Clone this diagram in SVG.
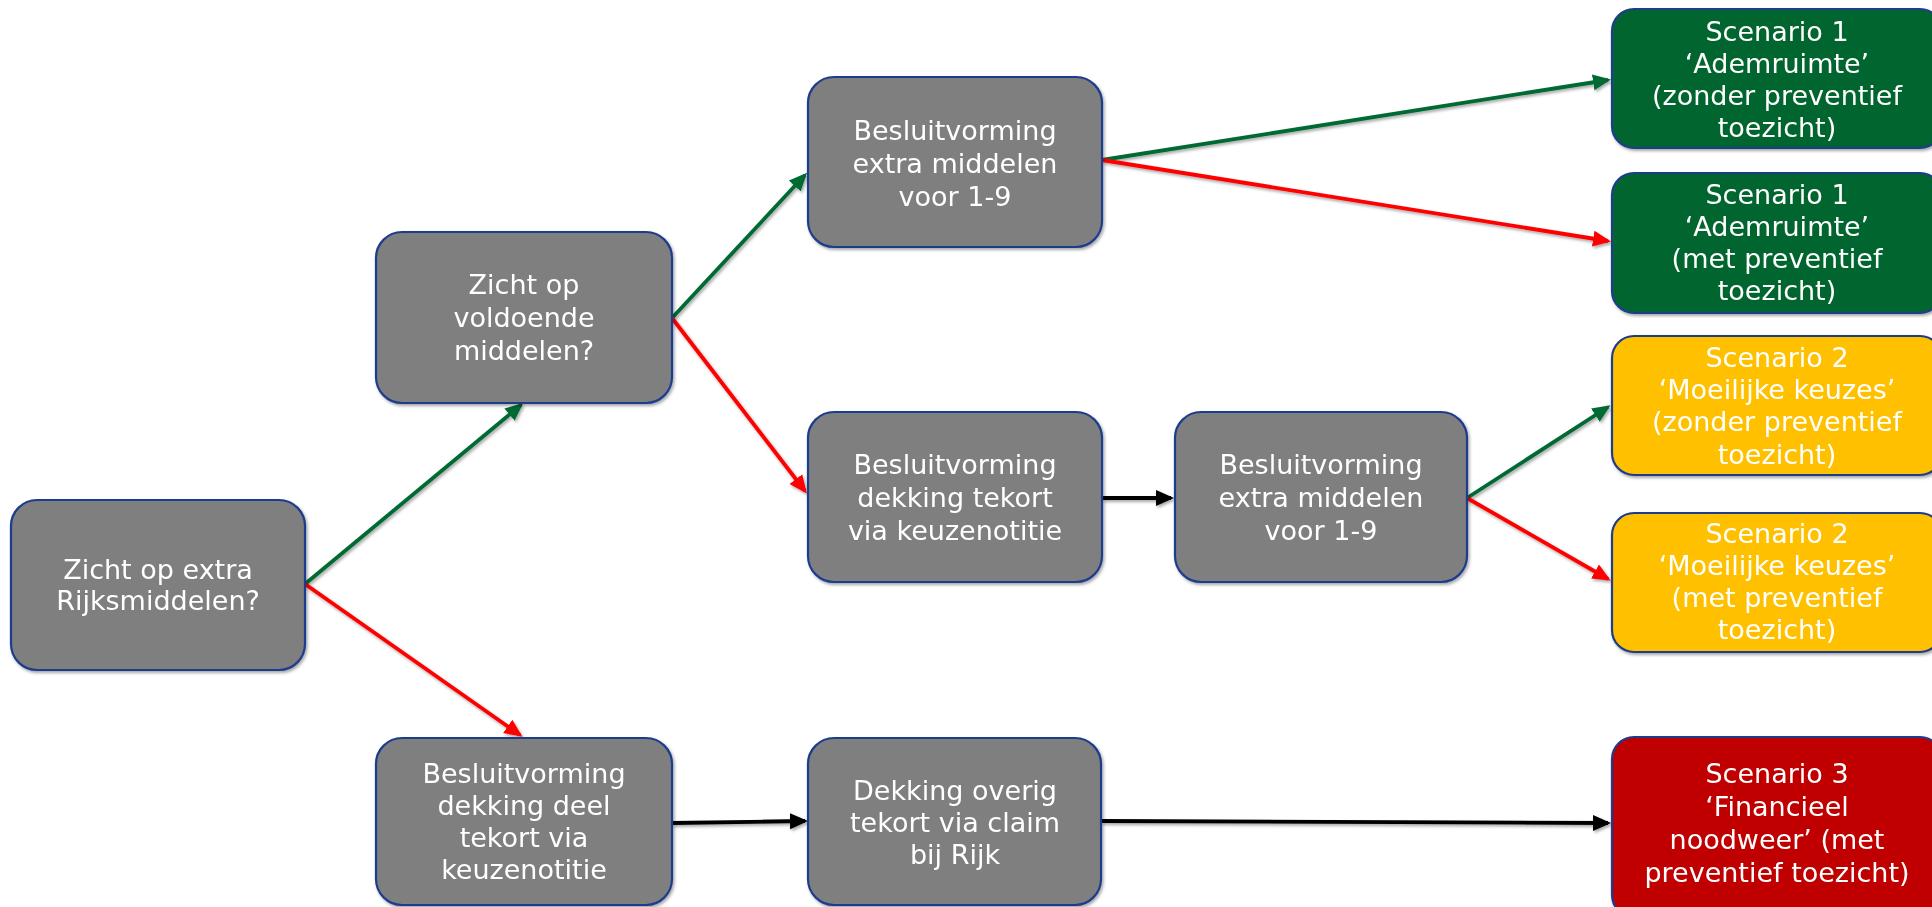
<svg xmlns="http://www.w3.org/2000/svg" width="1932" height="907" viewBox="0 0 1932 907">
<style>
.box{stroke:#1F3C8C;stroke-width:2.2}
.grey{fill:#7F7F7F}
.green{fill:#05652F}
.yellow{fill:#FFC000}
.red{fill:#C00000}
text{font-family:"DejaVu Sans","Verdana",sans-serif;font-size:27px;fill:#FFFFFF;text-anchor:middle}
.c{fill:none;stroke-width:3.8}
.cg{stroke:#046A33}
.cr{stroke:#FF0000}
.ck{stroke:#000000}
</style>
<defs>
<filter id="sh" x="-10%" y="-10%" width="130%" height="130%">
<feDropShadow dx="1.5" dy="2" stdDeviation="1.6" flood-color="#000" flood-opacity="0.35"/>
</filter>
<marker id="ag" markerUnits="userSpaceOnUse" markerWidth="19" markerHeight="18" refX="15" refY="9" orient="auto"><path d="M0,1 L18,9 L0,17 z" fill="#046A33"/></marker>
<marker id="ar" markerUnits="userSpaceOnUse" markerWidth="19" markerHeight="18" refX="15" refY="9" orient="auto"><path d="M0,1 L18,9 L0,17 z" fill="#FF0000"/></marker>
<marker id="ak" markerUnits="userSpaceOnUse" markerWidth="19" markerHeight="18" refX="15" refY="9" orient="auto"><path d="M0,1 L18,9 L0,17 z" fill="#000000"/></marker>
</defs>
<rect width="1932" height="907" fill="#FFFFFF"/>
<g id="connectors" filter="url(#sh)">
<line class="c cg" x1="305" y1="584" x2="521" y2="405" marker-end="url(#ag)"/>
<line class="c cr" x1="305" y1="584" x2="520" y2="735" marker-end="url(#ar)"/>
<line class="c cg" x1="672" y1="318" x2="805" y2="175" marker-end="url(#ag)"/>
<line class="c cr" x1="672" y1="318" x2="805" y2="491" marker-end="url(#ar)"/>
<line class="c cg" x1="1102" y1="160" x2="1608" y2="80" marker-end="url(#ag)"/>
<line class="c cr" x1="1102" y1="160" x2="1608" y2="241" marker-end="url(#ar)"/>
<line class="c ck" x1="1102" y1="498" x2="1171" y2="498" marker-end="url(#ak)"/>
<line class="c cg" x1="1467" y1="498" x2="1608" y2="407" marker-end="url(#ag)"/>
<line class="c cr" x1="1467" y1="498" x2="1608" y2="579" marker-end="url(#ar)"/>
<line class="c ck" x1="672" y1="823" x2="805" y2="821" marker-end="url(#ak)"/>
<line class="c ck" x1="1101" y1="821" x2="1608" y2="823" marker-end="url(#ak)"/>
</g>
<g id="nodeA" filter="url(#sh)">
<rect class="box grey" x="11" y="500" width="294" height="170" rx="26"/>
<text x="158" y="579">Zicht op extra</text>
<text x="158" y="610">Rijksmiddelen?</text>
</g>
<g id="nodeB" filter="url(#sh)">
<rect class="box grey" x="376" y="232" width="296" height="171" rx="26"/>
<text x="524" y="294">Zicht op</text>
<text x="524" y="327">voldoende</text>
<text x="524" y="360">middelen?</text>
</g>
<g id="nodeC" filter="url(#sh)">
<rect class="box grey" x="808" y="77" width="294" height="170" rx="26"/>
<text x="955" y="140">Besluitvorming</text>
<text x="955" y="173">extra middelen</text>
<text x="955" y="206">voor 1-9</text>
</g>
<g id="nodeD" filter="url(#sh)">
<rect class="box grey" x="808" y="412" width="294" height="170" rx="26"/>
<text x="955" y="474">Besluitvorming</text>
<text x="955" y="507">dekking tekort</text>
<text x="955" y="540">via keuzenotitie</text>
</g>
<g id="nodeE" filter="url(#sh)">
<rect class="box grey" x="1175" y="412" width="292" height="170" rx="26"/>
<text x="1321" y="474">Besluitvorming</text>
<text x="1321" y="507">extra middelen</text>
<text x="1321" y="540">voor 1-9</text>
</g>
<g id="nodeF" filter="url(#sh)">
<rect class="box grey" x="376" y="738" width="296" height="167" rx="26"/>
<text x="524" y="783">Besluitvorming</text>
<text x="524" y="815">dekking deel</text>
<text x="524" y="847">tekort via</text>
<text x="524" y="879">keuzenotitie</text>
</g>
<g id="nodeG" filter="url(#sh)">
<rect class="box grey" x="808" y="738" width="293" height="167" rx="26"/>
<text x="955" y="800">Dekking overig</text>
<text x="955" y="832">tekort via claim</text>
<text x="955" y="864">bij Rijk</text>
</g>
<g id="scen1a" filter="url(#sh)">
<rect class="box green" x="1612" y="9" width="330" height="139" rx="22"/>
<text x="1777" y="41">Scenario 1</text>
<text x="1777" y="73">‘Ademruimte’</text>
<text x="1777" y="105">(zonder preventief</text>
<text x="1777" y="137">toezicht)</text>
</g>
<g id="scen1b" filter="url(#sh)">
<rect class="box green" x="1612" y="173" width="330" height="140" rx="22"/>
<text x="1777" y="204">Scenario 1</text>
<text x="1777" y="236">‘Ademruimte’</text>
<text x="1777" y="268">(met preventief</text>
<text x="1777" y="300">toezicht)</text>
</g>
<g id="scen2a" filter="url(#sh)">
<rect class="box yellow" x="1612" y="336" width="330" height="139" rx="22"/>
<text x="1777" y="367">Scenario 2</text>
<text x="1777" y="399">‘Moeilijke keuzes’</text>
<text x="1777" y="431">(zonder preventief</text>
<text x="1777" y="464">toezicht)</text>
</g>
<g id="scen2b" filter="url(#sh)">
<rect class="box yellow" x="1612" y="513" width="330" height="139" rx="22"/>
<text x="1777" y="543">Scenario 2</text>
<text x="1777" y="575">‘Moeilijke keuzes’</text>
<text x="1777" y="607">(met preventief</text>
<text x="1777" y="639">toezicht)</text>
</g>
<g id="scen3" filter="url(#sh)">
<rect class="box red" x="1612" y="737" width="330" height="180" rx="22"/>
<text x="1777" y="783">Scenario 3</text>
<text x="1777" y="816">‘Financieel</text>
<text x="1777" y="849">noodweer’ (met</text>
<text x="1777" y="882">preventief toezicht)</text>
</g>
</svg>
